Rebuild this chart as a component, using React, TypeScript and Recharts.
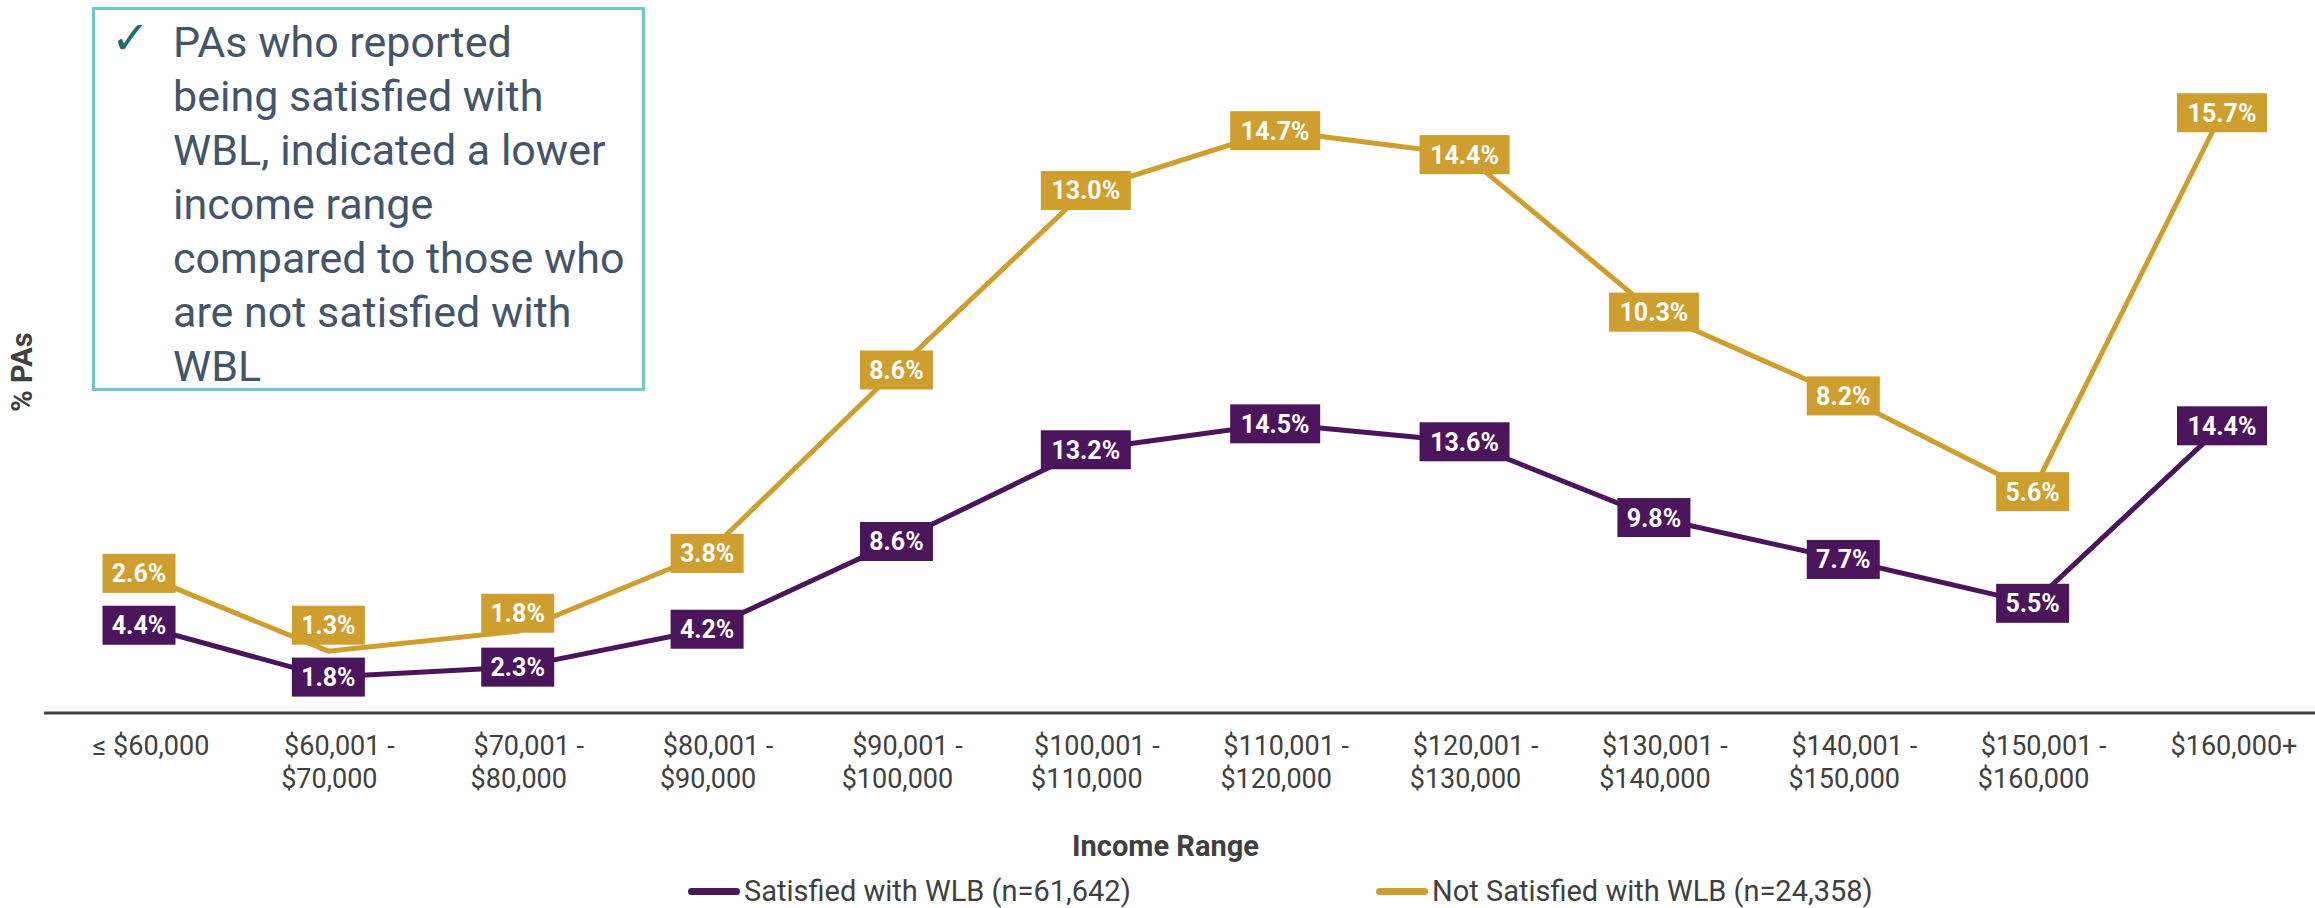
import React from "react";
import { AreaChart, Area, XAxis, YAxis, LabelList } from "recharts";

const incomeRanges = [
  "≤ $60,000",
  "$60,001 - $70,000",
  "$70,001 - $80,000",
  "$80,001 - $90,000",
  "$90,001 - $100,000",
  "$100,001 - $110,000",
  "$110,001 - $120,000",
  "$120,001 - $130,000",
  "$130,001 - $140,000",
  "$140,001 - $150,000",
  "$150,001 - $160,000",
  "$160,000+",
];

const satisfied = [4.4, 1.8, 2.3, 4.2, 8.6, 13.2, 14.5, 13.6, 9.8, 7.7, 5.5, 14.4];
const notSatisfied = [2.6, 1.3, 1.8, 3.8, 8.6, 13.0, 14.7, 14.4, 10.3, 8.2, 5.6, 15.7];

const seriesNames = ["Satisfied with WLB (n=61,642)", "Not Satisfied with WLB (n=24,358)"];

const noteLines = [
  "PAs who reported",
  "being satisfied with",
  "WBL, indicated a lower",
  "income range",
  "compared to those who",
  "are not satisfied with",
  "WBL",
];

const PURPLE = "#4B155C";
const GOLD = "#CE9E2E";
const GREY = "#404040";
const FONT = "Roboto, 'Noto Sans', sans-serif";

// the two low gold labels were nudged up in the original so they don't sit on the purple ones
const goldNudge: Record<number, number> = { 1: -26, 2: -18 };

const data = incomeRanges.map((range, i) => ({
  range,
  satisfied: satisfied[i],
  notSatisfied: notSatisfied[i],
}));

function makeValueLabel(values: number[], color: string, nudge: Record<number, number>) {
  return (props: any) => {
    const { x, y, index } = props;
    if (x == null || y == null) return null;
    const text = `${values[index].toFixed(1)}%`;
    const w = text.length * 17 + 5;
    const h = 39;
    const cy = y + (nudge[index] ?? 0);
    return (
      <g>
        <rect x={x - w / 2} y={cy - h / 2} width={w} height={h} fill={color} />
        <text x={x} y={cy + 9} textAnchor="middle" fill="#fff" fontSize={25} fontWeight={700} fontFamily={FONT}>
          {text}
        </text>
      </g>
    );
  };
}

function RangeTick(props: any) {
  const { x, y, payload } = props;
  const parts = String(payload.value).split(" - ");
  if (parts.length === 1) {
    return (
      <text x={x + 12} y={y + 42} textAnchor="middle" fill={GREY} fontSize={27} fontFamily={FONT}>
        {parts[0]}
      </text>
    );
  }
  return (
    <g>
      <text x={x + 11} y={y + 42} textAnchor="middle" fill={GREY} fontSize={27} fontFamily={FONT}>
        {parts[0] + " -"}
      </text>
      <text x={x + 1} y={y + 75} textAnchor="middle" fill={GREY} fontSize={27} fontFamily={FONT}>
        {parts[1]}
      </text>
    </g>
  );
}

export default function App() {
  return (
    <div style={{ position: "absolute", left: 0, top: 0, width: 2315, height: 908, background: "#fff", fontFamily: FONT }}>
      <AreaChart width={2315} height={908} data={data} margin={{ top: 15, right: 0, bottom: 0, left: 44 }}>
        <XAxis
          dataKey="range"
          height={195}
          padding={{ left: 95, right: 93 }}
          axisLine={{ stroke: GREY, strokeWidth: 3 }}
          tickLine={false}
          tickSize={0}
          tickMargin={0}
          interval={0}
          tick={<RangeTick />}
          label={{
            content: (p: any) => (
              <text
                x={p.viewBox.x + p.viewBox.width / 2 - 14}
                y={p.viewBox.y + 143}
                textAnchor="middle"
                fill={GREY}
                fontSize={29}
                fontWeight={700}
                fontFamily={FONT}
              >
                Income Range
              </text>
            ),
          }}
        />
        <YAxis domain={[0, 35]} width={0} tick={false} axisLine={false} tickLine={false} />
        <Area
          type="linear"
          dataKey="satisfied"
          stackId="wlb"
          stroke={PURPLE}
          strokeWidth={5}
          fill="none"
          dot={false}
          activeDot={false}
          isAnimationActive={false}
        >
          <LabelList dataKey="satisfied" content={makeValueLabel(satisfied, PURPLE, {})} />
        </Area>
        <Area
          type="linear"
          dataKey="notSatisfied"
          stackId="wlb"
          stroke={GOLD}
          strokeWidth={5}
          fill="none"
          dot={false}
          activeDot={false}
          isAnimationActive={false}
        >
          <LabelList dataKey="notSatisfied" content={makeValueLabel(notSatisfied, GOLD, goldNudge)} />
        </Area>
      </AreaChart>

      {/* y axis title */}
      <div
        style={{
          position: "absolute",
          left: 22,
          top: 372,
          transform: "translate(-50%, -50%) rotate(-90deg)",
          fontSize: 29,
          fontWeight: 700,
          color: GREY,
          whiteSpace: "nowrap",
          lineHeight: 1,
        }}
      >
        % PAs
      </div>

      {/* call-out box */}
      <div
        style={{
          position: "absolute",
          left: 92,
          top: 7,
          width: 547,
          height: 378,
          border: "3px solid #6FC6CD",
          background: "#fff",
        }}
      >
        <div
          style={{
            position: "absolute",
            left: 16,
            top: 5,
            fontSize: 46,
            lineHeight: 1,
            color: "#1F6B6F",
            fontFamily: "'DejaVu Sans', sans-serif",
          }}
        >
          ✓
        </div>
        <div style={{ position: "absolute", left: 78, top: 5, fontSize: 43, lineHeight: "54px", color: "#44546A", whiteSpace: "nowrap" }}>
          {noteLines.map((l) => (
            <div key={l}>{l}</div>
          ))}
        </div>
      </div>

      {/* legend */}
      {seriesNames.map((name, i) => (
        <div
          key={name}
          style={{
            position: "absolute",
            left: i === 0 ? 688 : 1376,
            top: 874,
            height: 34,
            display: "flex",
            alignItems: "center",
            fontSize: 29,
            color: GREY,
            whiteSpace: "nowrap",
          }}
        >
          <span
            style={{
              display: "inline-block",
              width: 52,
              height: 7,
              borderRadius: 4,
              background: i === 0 ? PURPLE : GOLD,
              marginRight: 4,
            }}
          />
          {name}
        </div>
      ))}
    </div>
  );
}
